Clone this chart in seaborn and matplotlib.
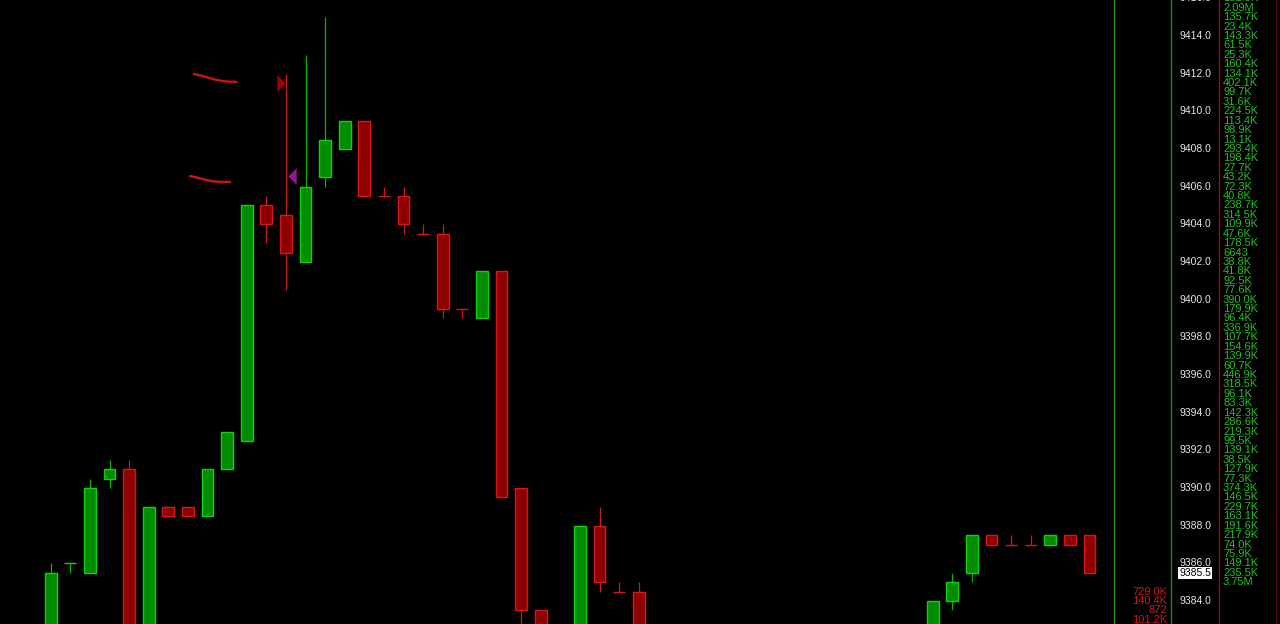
import matplotlib
matplotlib.use('Agg')
import matplotlib.pyplot as plt
import numpy as np
import pandas as pd
import seaborn as sns
from matplotlib.path import Path

# candle data (bar number, OHLC); bars fully below the view are left out
bar = [0, 1, 2, 3, 4, 5, 6, 7, 8, 9, 10, 11, 12, 13, 14, 15, 16, 17, 18, 19,
       20, 21, 22, 23, 24, 25, 27, 28, 29, 30, 45, 46, 47, 48, 49, 50, 51, 52, 53]
open_ = [9381.0, 9386.0, 9385.5, 9390.5, 9391.0, 9382.0, 9389.0, 9389.0, 9388.5, 9391.0,
         9392.5, 9405.0, 9404.5, 9402.0, 9406.5, 9408.0, 9409.5, 9405.5, 9405.5, 9403.5,
         9403.5, 9399.5, 9399.0, 9401.5, 9390.0, 9383.5, 9381.0, 9388.0, 9384.5, 9384.5,
         9380.5, 9384.0, 9385.5, 9387.5, 9387.0, 9387.0, 9387.0, 9387.5, 9387.5]
high = [9386.0, 9386.0, 9390.5, 9391.5, 9391.5, 9389.0, 9389.0, 9389.0, 9391.0, 9393.0,
        9405.0, 9405.5, 9412.0, 9413.0, 9415.0, 9409.5, 9409.5, 9406.0, 9406.0, 9404.0,
        9404.0, 9399.5, 9401.5, 9401.5, 9390.0, 9383.5, 9388.0, 9389.0, 9385.0, 9385.0,
        9384.0, 9385.5, 9387.5, 9387.5, 9387.5, 9387.5, 9387.5, 9387.5, 9387.5]
low = [9380.5, 9385.5, 9385.5, 9390.0, 9381.5, 9381.5, 9388.5, 9388.5, 9388.5, 9391.0,
       9392.5, 9403.0, 9400.5, 9402.0, 9406.0, 9408.0, 9405.5, 9405.5, 9403.5, 9403.5,
       9399.0, 9399.0, 9399.0, 9389.5, 9382.0, 9380.0, 9380.5, 9384.5, 9384.5, 9380.5,
       9380.0, 9383.5, 9385.0, 9387.0, 9387.0, 9387.0, 9387.0, 9387.0, 9385.5]
close = [9385.5, 9386.0, 9390.0, 9391.0, 9382.0, 9389.0, 9388.5, 9388.5, 9391.0, 9393.0,
         9405.0, 9404.0, 9402.5, 9406.0, 9408.5, 9409.5, 9405.5, 9405.5, 9404.0, 9403.5,
         9399.5, 9399.5, 9401.5, 9389.5, 9383.5, 9381.0, 9388.0, 9385.0, 9384.5, 9381.0,
         9384.0, 9385.0, 9387.5, 9387.0, 9387.0, 9387.0, 9387.5, 9387.0, 9385.5]

# volume at price column (right edge)
vap_price = list(np.arange(9416.0, 9384.9, -0.5))
vap_text = ['151.3K', '2.09M', '135.7K', '23.4K', '143.3K', '61.5K', '25.3K', '160.4K',
            '134.1K', '402.1K', '99.7K', '31.6K', '224.5K', '113.4K', '98.9K', '13.1K',
            '293.4K', '198.4K', '27.7K', '43.2K', '72.3K', '40.8K', '238.7K', '314.5K',
            '109.9K', '47.6K', '178.5K', '6643', '38.8K', '41.8K', '92.5K', '77.6K',
            '390.0K', '179.9K', '96.4K', '336.9K', '107.7K', '154.6K', '139.9K', '60.7K',
            '446.9K', '318.5K', '96.1K', '83.3K', '142.3K', '286.6K', '219.3K', '99.5K',
            '139.1K', '38.5K', '127.9K', '77.3K', '374.3K', '146.5K', '229.7K', '163.1K',
            '191.6K', '217.9K', '74.0K', '75.9K', '149.1K', '235.5K', '3.75M']
sell_price = [9384.5, 9384.0, 9383.5, 9383.0]
sell_text = ['729.0K', '140.4K', '872', '101.2K']

price_ticks = list(np.arange(9384.0, 9416.1, 2.0))
last_price = 9385.5

# hand drawn strokes and markers
stroke1_x = [7.31, 7.65, 7.96, 8.30, 8.64, 9.00, 9.49]
stroke1_y = [9411.98, 9411.90, 9411.81, 9411.71, 9411.63, 9411.58, 9411.56]
stroke2_x = [7.11, 7.35, 7.62, 7.95, 8.30, 8.70, 9.15]
stroke2_y = [9406.56, 9406.51, 9406.44, 9406.35, 9406.28, 9406.25, 9406.25]
red_mark = (11.75, 9411.5)
purple_mark = (12.29, 9406.55)

df = pd.DataFrame({'bar': bar, 'open': open_, 'high': high, 'low': low, 'close': close})
prev = df['close'].shift(1)
df['up'] = (df['close'] > df['open']) | ((df['close'] == df['open']) & (df['close'] > prev))

sns.set_style('dark', {'axes.facecolor': 'black', 'figure.facecolor': 'black'})
plt.rcParams['font.family'] = ['Liberation Sans', 'DejaVu Sans']
narrow = ['Liberation Sans Narrow', 'Liberation Sans', 'DejaVu Sans']

fig = plt.figure(figsize=(12.8, 6.24), dpi=100)
ax = fig.add_axes([0, 0, 1170 / 1280, 1])
ax.set_facecolor('black')
for s in ax.spines.values():
    s.set_visible(False)

px = 19.6
ax.set_xlim(-50.7 / px, (1170 - 50.7) / px)
ax.set_ylim(9382.779, 9415.911)
ax.set_xticks([])
ax.set_yticks([])

up = df[df['up']]
dn = df[~df['up']]
ax.vlines(up['bar'], up['low'], up['high'], color='#00b800', lw=0.9, zorder=2)
ax.vlines(dn['bar'], dn['low'], dn['high'], color='#d01818', lw=0.9, zorder=2)
for d, fc, ec in [(up, '#008c00', '#10d010'), (dn, '#8e0000', '#d81818')]:
    lo = np.minimum(d['open'], d['close'])
    hgt = (d['close'] - d['open']).abs()
    ax.bar(d['bar'], hgt, bottom=lo, width=0.61, color=fc, edgecolor=ec,
           linewidth=1.0, zorder=3)

# freehand strokes
strokes = pd.DataFrame({'x': stroke1_x + stroke2_x, 'y': stroke1_y + stroke2_y,
                        's': ['a'] * 7 + ['b'] * 7})
sns.lineplot(data=strokes, x='x', y='y', units='s', estimator=None, sort=False,
             color='#c41414', lw=1.8, ax=ax, legend=False)
ax.set_xlabel('')
ax.set_ylabel('')

tri_r = Path([(-0.5, -1), (0.5, 0), (-0.5, 1), (-0.5, -1)])
tri_l = Path([(0.5, -1), (-0.5, 0), (0.5, 1), (0.5, -1)])
ax.plot(*red_mark, marker=tri_r, ms=12, color='#a00000', mec='none', zorder=4)
ax.plot(*purple_mark, marker=tri_l, ms=12, color='#8e1a8e', mec='none', zorder=4)

# separator lines
for xf, c in [(1114 / 1170, '#1a9a1a'), (1171 / 1170, '#1a8a1a'),
              (1219 / 1170, '#8a1010'), (1276 / 1170, '#5a0a0a')]:
    ax.plot([xf, xf], [0, 1], transform=ax.transAxes, color=c, lw=1.0, clip_on=False)

yt = ax.get_yaxis_transform()
for p in price_ticks:
    ax.text(1211 / 1170, p, f'{p:.1f}', transform=yt, ha='right', va='center',
            color='#e6e6e6', fontsize=7.5, clip_on=False)
ax.text(1211 / 1170, last_price, f'{last_price:.1f}', transform=yt, ha='right',
        va='center', color='black', fontsize=7.5, clip_on=False, zorder=6,
        bbox=dict(boxstyle='square,pad=0.12', fc='white', ec='none'))

for p, t in zip(vap_price, vap_text):
    ax.text(1223 / 1170, p, t, transform=yt, ha='left', va='center',
            color='#26be26', fontsize=8, family=narrow, clip_on=False)
for p, t in zip(sell_price, sell_text):
    ax.text(1167 / 1170, p, t, transform=yt, ha='right', va='center',
            color='#cc1a1a', fontsize=8, family=narrow, clip_on=False)

fig.savefig('out.png', dpi=100, facecolor='black')
